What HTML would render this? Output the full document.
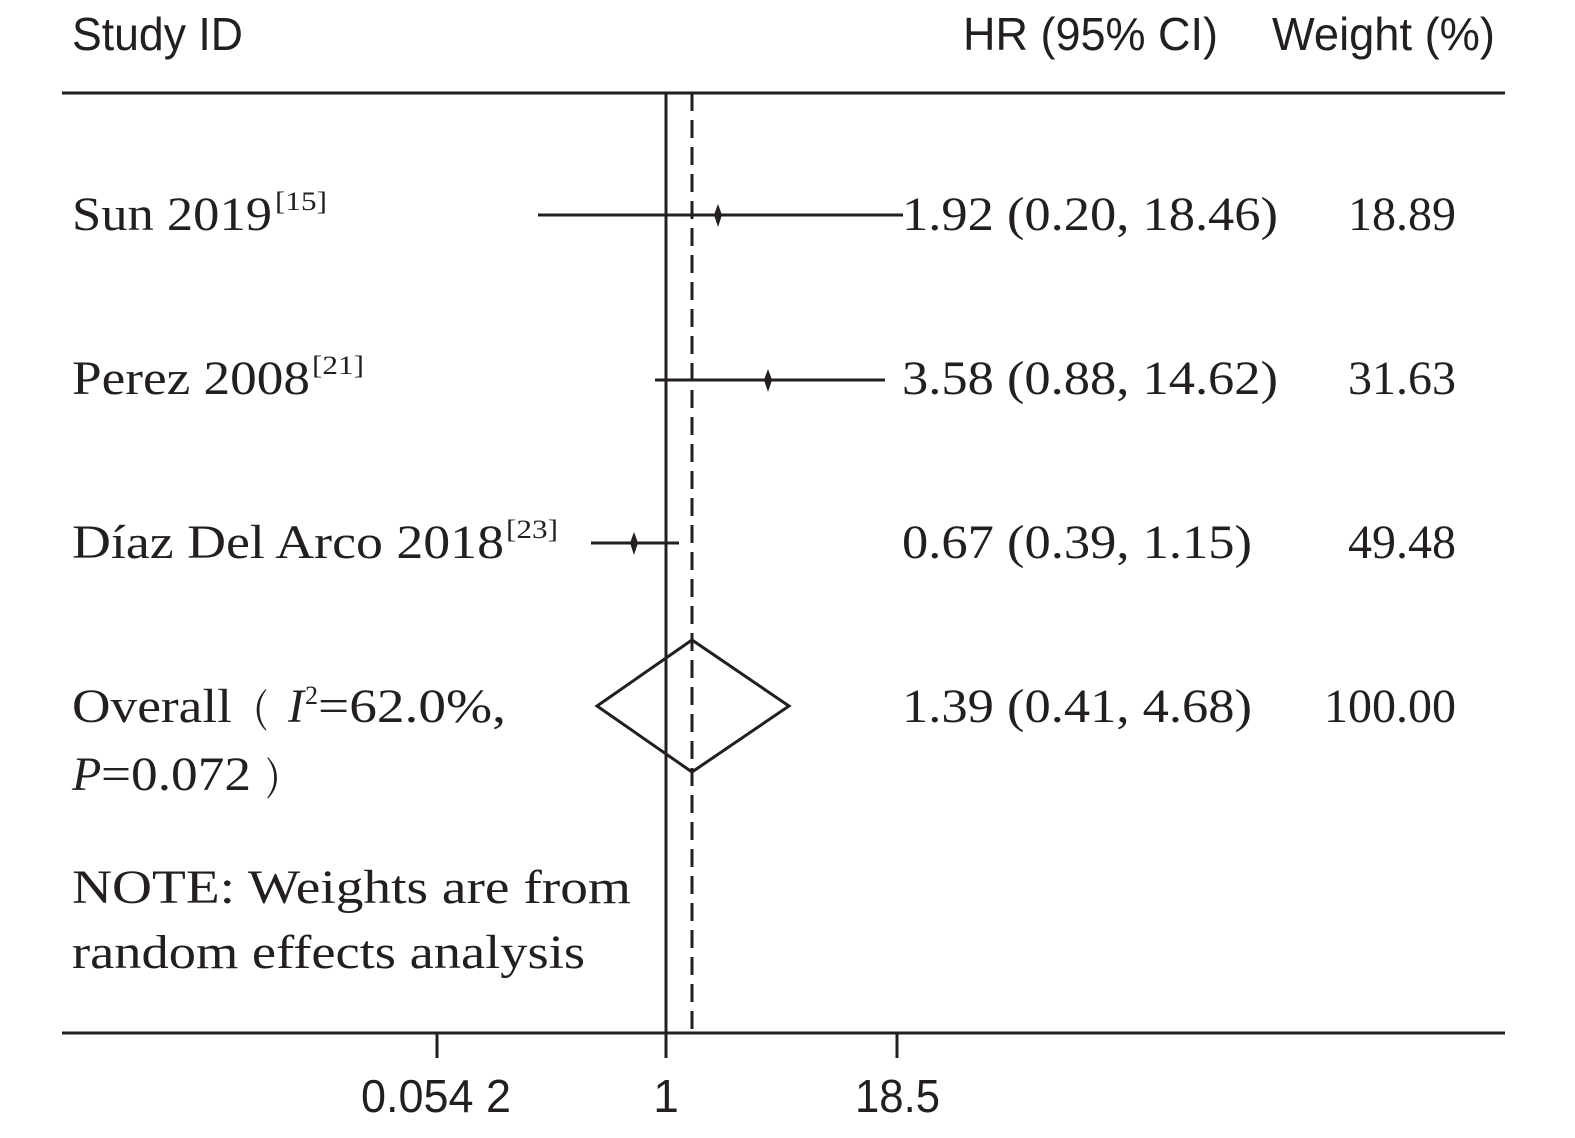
<!DOCTYPE html>
<html><head><meta charset="utf-8"><style>html,body{margin:0;padding:0;background:#fff}svg{display:block}</style></head>
<body>
<svg width="1575" height="1138" viewBox="0 0 1575 1138" xmlns="http://www.w3.org/2000/svg">
<g font-family="Liberation Sans, sans-serif" font-size="46" fill="#231f20">
<text x="72" y="50" textLength="171" lengthAdjust="spacingAndGlyphs">Study ID</text>
<text x="963" y="50" textLength="255" lengthAdjust="spacingAndGlyphs">HR (95% CI)</text>
<text x="1272" y="50" textLength="223" lengthAdjust="spacingAndGlyphs">Weight (%)</text>
<text x="361" y="1112" textLength="150" lengthAdjust="spacingAndGlyphs">0.054 2</text>
<text x="666" y="1112" text-anchor="middle">1</text>
<text x="855" y="1112" textLength="85" lengthAdjust="spacingAndGlyphs">18.5</text>
</g>
<g stroke="#231f20" stroke-width="3" fill="none">
<line x1="62" y1="93" x2="1505" y2="93"/>
<line x1="62" y1="1033" x2="1505" y2="1033"/>
<line x1="666" y1="93" x2="666" y2="1033"/>
<line x1="692" y1="93" x2="692" y2="1033" stroke-dasharray="18,9"/>
<line x1="437" y1="1033" x2="437" y2="1058"/>
<line x1="666" y1="1033" x2="666" y2="1058"/>
<line x1="897" y1="1033" x2="897" y2="1058"/>
<line x1="538" y1="215" x2="903" y2="215"/>
<line x1="655" y1="380" x2="885" y2="380"/>
<line x1="591" y1="543" x2="679" y2="543"/>
<polygon points="597,706 692,640 789,706 692,772"/>
</g>
<g fill="#231f20">
<polygon points="718,204 722,215 718,227 714,215"/>
<polygon points="768,369 772,380 768,392 764,380"/>
<polygon points="634,532 638,543 634,555 630,543"/>
</g>
<g font-family="Liberation Serif, serif" font-size="48" fill="#231f20">
<text x="72" y="230" textLength="200" lengthAdjust="spacingAndGlyphs">Sun 2019</text>
<text x="275" y="210" font-size="26" textLength="52" lengthAdjust="spacingAndGlyphs">[15]</text>
<text x="72" y="394" textLength="238" lengthAdjust="spacingAndGlyphs">Perez 2008</text>
<text x="312" y="374" font-size="26" textLength="52" lengthAdjust="spacingAndGlyphs">[21]</text>
<text x="72" y="558" textLength="432" lengthAdjust="spacingAndGlyphs">Díaz Del Arco 2018</text>
<text x="506" y="538" font-size="26" textLength="52" lengthAdjust="spacingAndGlyphs">[23]</text>
<text x="72" y="722" textLength="160" lengthAdjust="spacingAndGlyphs">Overall</text>
<text x="253" y="722" font-family="Noto Serif CJK SC, serif" font-size="40">(</text>
<text x="288" y="722" font-style="italic">I</text>
<text x="305" y="704" font-size="26">2</text>
<text x="318" y="722" textLength="188" lengthAdjust="spacingAndGlyphs">=62.0%,</text>
<text x="72" y="790" font-style="italic">P</text>
<text x="101" y="790" textLength="150" lengthAdjust="spacingAndGlyphs">=0.072</text>
<text x="266" y="790" font-family="Noto Serif CJK SC, serif" font-size="40">)</text>
<text x="72" y="903" textLength="559" lengthAdjust="spacingAndGlyphs">NOTE: Weights are from</text>
<text x="72" y="968" textLength="513" lengthAdjust="spacingAndGlyphs">random effects analysis</text>
<text x="902" y="230" textLength="376" lengthAdjust="spacingAndGlyphs">1.92 (0.20, 18.46)</text>
<text x="902" y="394" textLength="376" lengthAdjust="spacingAndGlyphs">3.58 (0.88, 14.62)</text>
<text x="902" y="558" textLength="350" lengthAdjust="spacingAndGlyphs">0.67 (0.39, 1.15)</text>
<text x="902" y="722" textLength="350" lengthAdjust="spacingAndGlyphs">1.39 (0.41, 4.68)</text>
<text x="1456" y="230" text-anchor="end">18.89</text>
<text x="1456" y="394" text-anchor="end">31.63</text>
<text x="1456" y="558" text-anchor="end">49.48</text>
<text x="1456" y="722" text-anchor="end">100.00</text>
</g>
</svg>
</body></html>
